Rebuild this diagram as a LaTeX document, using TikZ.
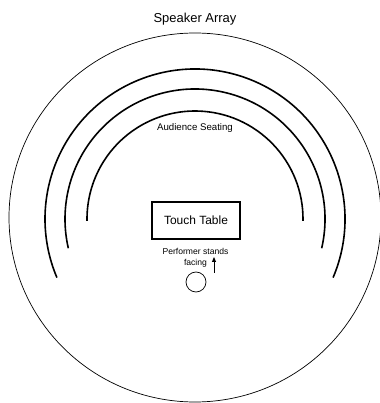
\documentclass[tikz,border=0pt]{standalone}
\usepackage{fontspec}
\setmainfont{Liberation Sans}
\usetikzlibrary{arrows.meta}
\begin{document}
\begin{tikzpicture}[x=1bp,y=1bp,
  thinline/.style={line width=0.7bp},
  seatarc/.style={line width=1.6bp},
  lbl/.style={inner sep=0pt,align=center}]
\useasboundingbox (0,0) rectangle (380,403);
% speaker array circle
\draw[thinline] (195,185.5) ellipse [x radius=186, y radius=184.5];
% audience seating arcs
\draw[seatarc] (195,184) ++(-23:150) arc[start angle=-23, end angle=203, radius=150];
\draw[seatarc] (195,184) ++(-13:130) arc[start angle=-13, end angle=193, radius=130];
\draw[seatarc] (195,184) ++(-1:108) arc[start angle=-1, end angle=181, radius=108];
% labels
\node[lbl,font=\fontsize{13}{15}\selectfont] (spk) at (195,384) {Speaker Array};
\node[lbl,font=\fontsize{9.7}{11}\selectfont] (aud) at (195,275) {Audience Seating};
\node[draw,line width=1.2bp,minimum width=88bp,minimum height=37bp,inner sep=0pt,
  font=\fontsize{12}{14}\selectfont] (tt) at (196,182.5) {Touch Table};
\node[lbl,font=\fontsize{8.6}{11}\selectfont] (perf) at (195.5,145.5) {Performer stands\\facing};
\node[draw,circle,thinline,minimum size=20bp,inner sep=0pt] (pc) at (196,121) {};
\coordinate (a0) at (214,130);
\coordinate (a1) at (214,146);
\draw[line width=0.9bp,-{Triangle[length=5bp,width=4bp]}] (a0) -- (a1);
\end{tikzpicture}
\end{document}
